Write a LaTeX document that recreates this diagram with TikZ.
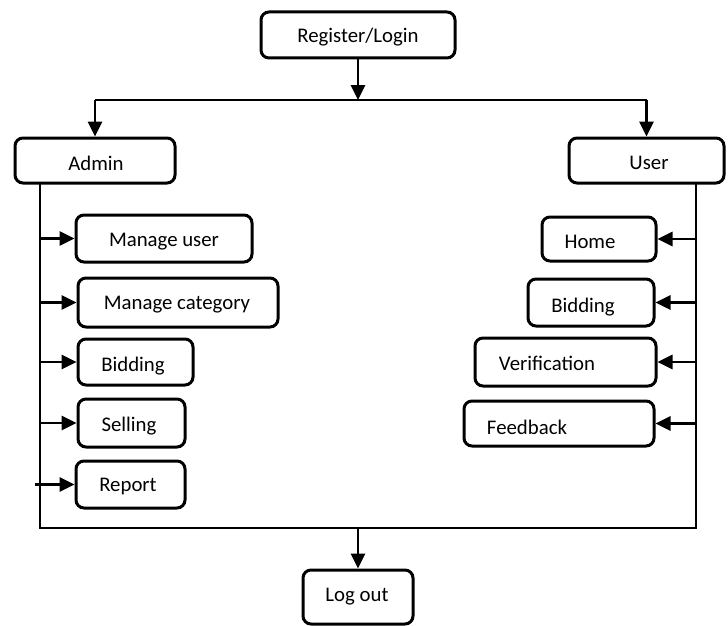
\documentclass[tikz,border=0pt]{standalone}
\usepackage{fontspec}
\setmainfont{Carlito}
\usetikzlibrary{arrows.meta}
\begin{document}
\begin{tikzpicture}[x=1pt,y=-1pt,
  box/.style={draw=black,line width=3pt,rounded corners=8pt,inner sep=0pt},
  lbl/.style={inner sep=0pt,font=\fontsize{20.8}{24}\selectfont},
  conn/.style={line width=2.8pt},
  arr/.style={line width=2.8pt,-{Triangle[length=15pt,width=14pt]}}]
\useasboundingbox (0,0) rectangle (728,626);
% boxes
\node[box,minimum width=194pt,minimum height=46pt] (reg) at (358,35) {};
\node[box,minimum width=160pt,minimum height=45pt] (admin) at (95,160.5) {};
\node[box,minimum width=155pt,minimum height=45pt] (user) at (646.5,160.5) {};
\node[box,minimum width=176pt,minimum height=47pt] (mu) at (164,238.5) {};
\node[box,minimum width=200pt,minimum height=49pt] (mc) at (178,302.5) {};
\node[box,minimum width=115pt,minimum height=46pt] (abid) at (135.5,362) {};
\node[box,minimum width=107pt,minimum height=48pt] (sel) at (131.5,423) {};
\node[box,minimum width=109pt,minimum height=47pt] (rep) at (130.5,484.5) {};
\node[box,minimum width=114pt,minimum height=44pt] (home) at (599,239) {};
\node[box,minimum width=126pt,minimum height=47pt] (ubid) at (591,302.5) {};
\node[box,minimum width=181pt,minimum height=48pt] (ver) at (565.5,362) {};
\node[box,minimum width=190pt,minimum height=45pt] (fb) at (559,423.5) {};
\node[box,minimum width=110pt,minimum height=54pt] (logout) at (358,597) {};
% texts
\node[lbl] (regt) at (358,37) {Register/Login};
\node[lbl] (admint) at (96,163) {Admin};
\node[lbl] (usert) at (649,163) {User};
\node[lbl] (mut) at (164,242) {Manage user};
\node[lbl] (mct) at (177,305) {Manage category};
\node[lbl] (abidt) at (133,366) {Bidding};
\node[lbl] (selt) at (129,426) {Selling};
\node[lbl] (rept) at (128,486) {Report};
\node[lbl] (homet) at (590,242) {Home};
\node[lbl] (ubidt) at (583,307) {Bidding};
\node[lbl] (vert) at (547,363) {Verification};
\node[lbl] (fbt) at (527,427) {Feedback};
\node[lbl] (logoutt) at (357,597) {Log out};
% coordinates
\coordinate (jn) at (358,100);
\coordinate (lt) at (40,183);
\coordinate (lb) at (40,528);
\coordinate (rt) at (696,183);
\coordinate (rb) at (696,528);
\coordinate (jb) at (358,528);
\coordinate (rs) at (35,484.5);
% top connectors
\draw[arr] (reg.south) -- (jn);
\draw[conn] (admin.north |- jn) -- (user.north |- jn);
\draw[arr] (admin.north |- jn) -- (admin.north);
\draw[arr] (user.north |- jn) -- (user.north);
% frame
\draw[conn] (lt) -- (lb) -- (rb) -- (rt);
% left branches
\draw[arr] (mu.west -| lt) -- (mu.west);
\draw[arr] (mc.west -| lt) -- (mc.west);
\draw[arr] (abid.west -| lt) -- (abid.west);
\draw[arr] (sel.west -| lt) -- (sel.west);
\draw[arr] (rs) -- (rep.west);
% right branches
\draw[arr] (home.east -| rt) -- (home.east);
\draw[arr] (ubid.east -| rt) -- (ubid.east);
\draw[arr] (ver.east -| rt) -- (ver.east);
\draw[arr] (fb.east -| rt) -- (fb.east);
% bottom
\draw[arr] (jb) -- (logout.north);
\end{tikzpicture}
\end{document}
